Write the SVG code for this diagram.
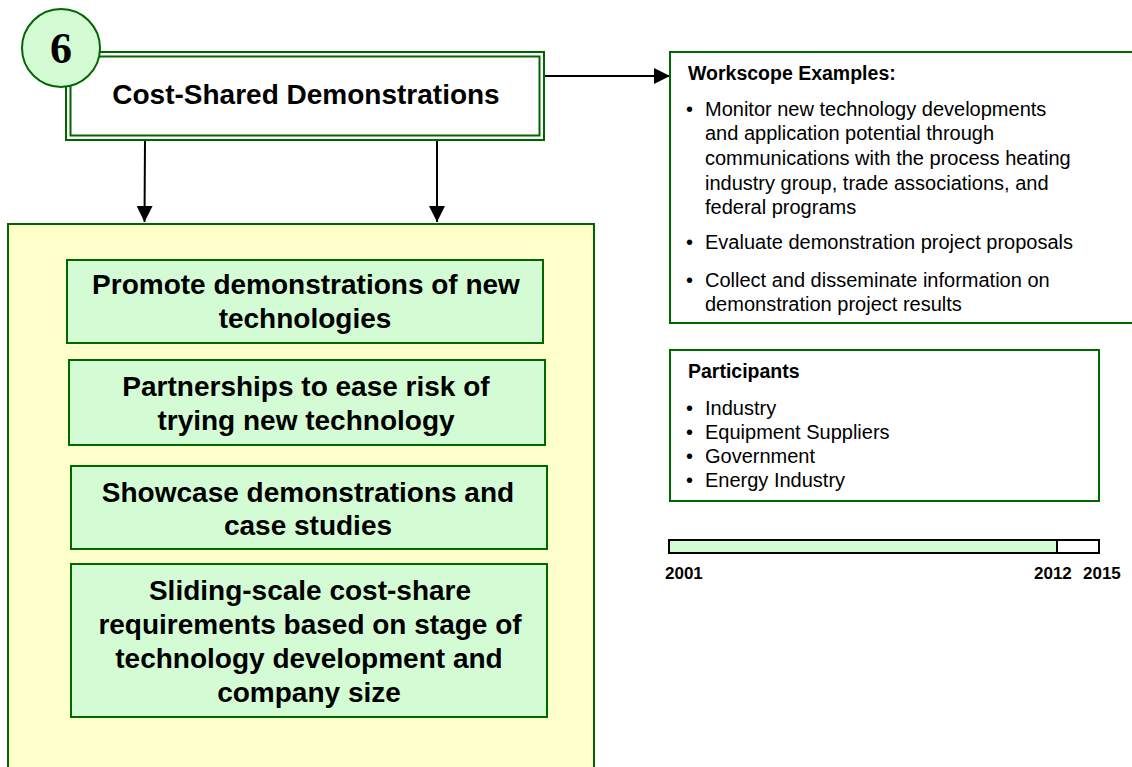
<svg xmlns="http://www.w3.org/2000/svg" width="1132" height="767" viewBox="0 0 1132 767">
<defs>
<style>
.g{stroke:#006600;stroke-width:2}
.big{font-family:"Liberation Sans",Arial,sans-serif;font-weight:bold;font-size:28px;fill:#000;text-anchor:middle}
.hd{font-family:"Liberation Sans",Arial,sans-serif;font-weight:bold;font-size:19.5px;fill:#000}
.tx{font-family:"Liberation Sans",Arial,sans-serif;font-size:20px;fill:#000}
.yr{font-family:"Liberation Sans",Arial,sans-serif;font-weight:bold;font-size:17px;fill:#000}
.ln{stroke:#000;stroke-width:2;fill:none}
</style>
<marker id="ah" markerWidth="16" markerHeight="16" refX="16" refY="8" orient="auto" markerUnits="userSpaceOnUse">
<path d="M0,0 L16,8 L0,16 Z" fill="#000"/>
</marker>
</defs>
<rect width="1132" height="767" fill="#fff"/>

<g id="connectors">
<line class="ln" x1="145" y1="140" x2="144.5" y2="222" marker-end="url(#ah)"/>
<line class="ln" x1="437" y1="140" x2="437" y2="222" marker-end="url(#ah)"/>
<line class="ln" x1="544" y1="76" x2="670" y2="76" marker-end="url(#ah)"/>
</g>

<g id="title">
<rect x="66" y="52" width="478" height="88" fill="#fff" class="g"/>
<rect x="70.5" y="56.5" width="469" height="79" fill="none" class="g"/>
<text x="306" y="104" class="big">Cost-Shared Demonstrations</text>
</g>

<g id="badge">
<circle cx="61" cy="48" r="39" fill="#d4fcd4" class="g"/>
<text x="61" y="63" font-family="Liberation Serif,Times New Roman,serif" font-weight="bold" font-size="44" text-anchor="middle">6</text>
</g>

<g id="container">
<rect x="8" y="224" width="586" height="560" fill="#ffffcc" class="g"/>
</g>

<g id="box1">
<rect x="67" y="260" width="476" height="83" fill="#d4fcd4" class="g"/>
<text x="306" y="294" class="big">Promote demonstrations of new</text>
<text x="305" y="328" class="big">technologies</text>
</g>
<g id="box2">
<rect x="69" y="360" width="476" height="85" fill="#d4fcd4" class="g"/>
<text x="306" y="396" class="big">Partnerships to ease risk of</text>
<text x="306" y="430" class="big">trying new technology</text>
</g>
<g id="box3">
<rect x="71" y="466" width="476" height="83" fill="#d4fcd4" class="g"/>
<text x="308" y="502" class="big">Showcase demonstrations and</text>
<text x="308" y="535" class="big">case studies</text>
</g>
<g id="box4">
<rect x="71" y="564" width="476" height="153" fill="#d4fcd4" class="g"/>
<text x="310" y="600" class="big">Sliding-scale cost-share</text>
<text x="310" y="634" class="big">requirements based on stage of</text>
<text x="309" y="668" class="big">technology development and</text>
<text x="309" y="702" class="big">company size</text>
</g>

<g id="workscope">
<rect x="670" y="52" width="480" height="271" fill="#fff" class="g"/>
<text x="688" y="80" class="hd">Workscope Examples:</text>
<g class="tx">
<text x="686" y="116">•</text>
<text x="705" y="116">Monitor new technology developments</text>
<text x="705" y="140">and application potential through</text>
<text x="705" y="165">communications with the process heating</text>
<text x="705" y="190">industry group, trade associations, and</text>
<text x="705" y="214">federal programs</text>
<text x="686" y="249">•</text>
<text x="705" y="249">Evaluate demonstration project proposals</text>
<text x="686" y="287">•</text>
<text x="705" y="287">Collect and disseminate information on</text>
<text x="705" y="311">demonstration project results</text>
</g>
</g>

<g id="participants">
<rect x="670" y="350" width="429" height="151" fill="#fff" class="g"/>
<text x="688" y="378" class="hd">Participants</text>
<g class="tx">
<text x="686" y="415">•</text><text x="705" y="415">Industry</text>
<text x="686" y="439">•</text><text x="705" y="439">Equipment Suppliers</text>
<text x="686" y="463">•</text><text x="705" y="463">Government</text>
<text x="686" y="487">•</text><text x="705" y="487">Energy Industry</text>
</g>
</g>

<g id="timeline">
<rect x="669" y="540" width="430" height="13" fill="#fff" stroke="#000" stroke-width="2"/>
<rect x="670" y="541" width="387" height="11" fill="#d4fcd4"/>
<line x1="1057" y1="540" x2="1057" y2="553" stroke="#000" stroke-width="2"/>
<text x="665" y="579" class="yr">2001</text>
<text x="1034" y="579" class="yr">2012</text>
<text x="1083" y="579" class="yr">2015</text>
</g>
</svg>
